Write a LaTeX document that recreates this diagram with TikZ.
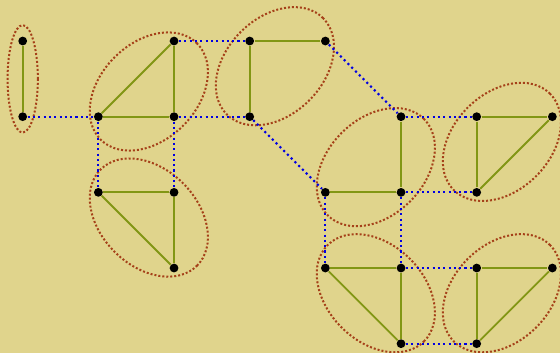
\documentclass[tikz,border=0pt]{standalone}
\usepackage{tikz}
\usetikzlibrary{positioning}
\definecolor{bgsand}{RGB}{224,212,140}
\definecolor{edgegreen}{RGB}{130,150,20}
\definecolor{grpbrown}{RGB}{165,65,25}
\definecolor{linkblue}{RGB}{0,0,225}

\begin{document}
\begin{tikzpicture}[
  vtx/.style={circle,fill=black,inner sep=0pt,minimum size=3.3pt},
  gedge/.style={draw=edgegreen,line width=0.7pt},
  xlink/.style={draw=linkblue,line width=0.8pt,dash pattern=on 0.8pt off 1.2pt},
  grp/.style={draw=grpbrown,line width=0.75pt,dash pattern=on 0.75pt off 0.75pt}
]
  \fill[bgsand] (-0.3,0.542) rectangle (7.101,-4.123);
  \useasboundingbox (-0.3,0.542) rectangle (7.101,-4.123);
  % groups
  \draw[grp] (0,-0.5) ellipse (0.2 and 0.71);
  \draw[grp,rotate around={45:(1.667,-0.667)}] (1.667,-0.667) ellipse (0.9 and 0.64);
  \draw[grp,rotate around={-45:(1.667,-2.333)}] (1.667,-2.333) ellipse (0.9 and 0.64);
  \draw[grp,rotate around={45:(3.333,-0.333)}] (3.333,-0.333) ellipse (0.9 and 0.64);
  \draw[grp,rotate around={45:(4.667,-1.667)}] (4.667,-1.667) ellipse (0.9 and 0.64);
  \draw[grp,rotate around={45:(6.333,-1.333)}] (6.333,-1.333) ellipse (0.9 and 0.64);
  \draw[grp,rotate around={-45:(4.667,-3.333)}] (4.667,-3.333) ellipse (0.9 and 0.64);
  \draw[grp,rotate around={45:(6.333,-3.333)}] (6.333,-3.333) ellipse (0.9 and 0.64);
  % vertices
  \node[vtx] (a1) at (0,0) {};
  \node[vtx] (a2) at (0,-1) {};
  \node[vtx] (b1) at (1,-1) {};
  \node[vtx] (b2) at (2,0) {};
  \node[vtx] (b3) at (2,-1) {};
  \node[vtx] (c1) at (1,-2) {};
  \node[vtx] (c2) at (2,-2) {};
  \node[vtx] (c3) at (2,-3) {};
  \node[vtx] (d1) at (3,0) {};
  \node[vtx] (d2) at (4,0) {};
  \node[vtx] (d3) at (3,-1) {};
  \node[vtx] (e1) at (5,-1) {};
  \node[vtx] (e2) at (4,-2) {};
  \node[vtx] (e3) at (5,-2) {};
  \node[vtx] (f1) at (6,-1) {};
  \node[vtx] (f2) at (7,-1) {};
  \node[vtx] (f3) at (6,-2) {};
  \node[vtx] (g1) at (4,-3) {};
  \node[vtx] (g2) at (5,-3) {};
  \node[vtx] (g3) at (5,-4) {};
  \node[vtx] (h1) at (6,-3) {};
  \node[vtx] (h2) at (7,-3) {};
  \node[vtx] (h3) at (6,-4) {};
  % edges inside groups
  \draw[gedge] (a1) -- (a2);
  \draw[gedge] (b1) -- (b2);
  \draw[gedge] (b2) -- (b3);
  \draw[gedge] (b1) -- (b3);
  \draw[gedge] (c1) -- (c2);
  \draw[gedge] (c2) -- (c3);
  \draw[gedge] (c1) -- (c3);
  \draw[gedge] (d1) -- (d2);
  \draw[gedge] (d1) -- (d3);
  \draw[gedge] (e1) -- (e3);
  \draw[gedge] (e2) -- (e3);
  \draw[gedge] (f1) -- (f2);
  \draw[gedge] (f1) -- (f3);
  \draw[gedge] (f2) -- (f3);
  \draw[gedge] (g1) -- (g2);
  \draw[gedge] (g2) -- (g3);
  \draw[gedge] (g1) -- (g3);
  \draw[gedge] (h1) -- (h2);
  \draw[gedge] (h1) -- (h3);
  \draw[gedge] (h2) -- (h3);
  % links between groups
  \draw[xlink] (a2) -- (b1);
  \draw[xlink] (b2) -- (d1);
  \draw[xlink] (b3) -- (d3);
  \draw[xlink] (b1) -- (c1);
  \draw[xlink] (b3) -- (c2);
  \draw[xlink] (d2) -- (e1);
  \draw[xlink] (d3) -- (e2);
  \draw[xlink] (e1) -- (f1);
  \draw[xlink] (e3) -- (f3);
  \draw[xlink] (e2) -- (g1);
  \draw[xlink] (e3) -- (g2);
  \draw[xlink] (g2) -- (h1);
  \draw[xlink] (g3) -- (h3);
\end{tikzpicture}
\end{document}
